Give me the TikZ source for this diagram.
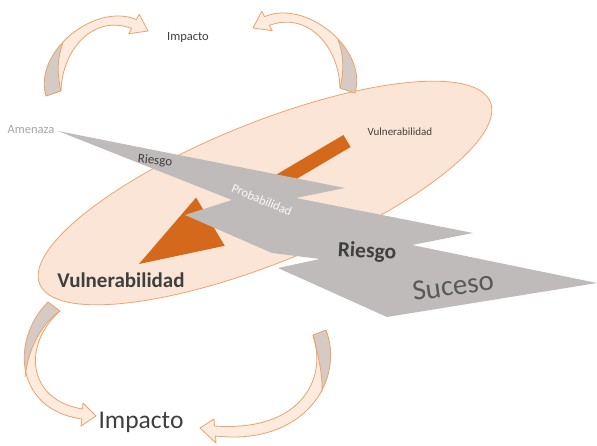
\documentclass[tikz,border=0pt]{standalone}
\usepackage{fontspec}
\setmainfont{Carlito}

\definecolor{ellfill}{HTML}{FBE5D6}
\definecolor{elledge}{HTML}{EFA470}
\definecolor{vulnorange}{HTML}{D4691C}
\definecolor{boltgray}{HTML}{BFBBBA}
\definecolor{ribfill}{HTML}{FDEBDD}
\definecolor{ribedge}{HTML}{EBA26C}
\definecolor{ribback}{HTML}{D6CBC4}
\definecolor{textdark}{HTML}{3F3F3F}
\definecolor{textmid}{HTML}{595959}
\definecolor{textlight}{HTML}{A6A6A6}

% curved ribbon arrow: outline path, back-side region, fold line
\newcommand\curvedribbon[3]{%
  \fill[ribfill] #1;
  \begin{scope}
    \clip #1;
    \fill[ribback] #2;
  \end{scope}
  \draw[ribbonedge] #3;
  \draw[ribbonedge] #1;
}

% ribbon outlines (outer edge, head, inner edge)
\def\ribbonTL{(46,96) .. controls (33,52) and (95,2) .. (136.4,19.6) -- (139.2,14.3) -- (148,31) -- (128.8,33.7) -- (131.6,28.4) .. controls (93,14) and (62,50) .. (61,91) -- cycle}
\def\backTL{(63,43) .. controls (57,58) and (57,75) .. (61,91) -- (40,110) -- (10,110) -- (10,43) -- cycle}
\def\foldTL{(63,43) .. controls (57,58) and (57,75) .. (61,91)}

\def\ribbonBL{(48,302) .. controls (10,340) and (15,410) .. (82,419) -- (81,426) -- (96,416) -- (83,403) -- (82.5,409) .. controls (27,400) and (22,345) .. (60,311) -- cycle}
\def\backBL{(25,377) .. controls (28,350) and (40,325) .. (60,311) -- (62,295) -- (0,295) -- (0,377) -- cycle}
\def\foldBL{(25,377) .. controls (28,350) and (40,325) .. (60,311)}

\def\ribbonBR{(326,330) .. controls (345,380) and (305,446) .. (215.5,436) -- (216,443) -- (200,428) -- (214,419) -- (214.5,426) .. controls (300,432) and (328,380) .. (313,335) -- cycle}
\def\backBR{(313,335) .. controls (318,355) and (323,375) .. (322,392) -- (360,392) -- (360,320) -- (313,320) -- cycle}
\def\foldBR{(313,335) .. controls (318,355) and (323,375) .. (322,392)}

\begin{document}
\begin{tikzpicture}[x={(1pt,0pt)}, y={(0pt,-1pt)},
    ribbonedge/.style={draw=ribedge, line width=0.8pt, line join=round},
    lbl/.style={inner sep=0pt, text=textdark}]
\useasboundingbox (0,0) rectangle (597,446);
\fill[white] (0,0) rectangle (597,446);

% vulnerability ellipse
\filldraw[fill=ellfill, draw=elledge, line width=0.8pt, rotate around={22:(265,193)}]
  (265,193) ellipse [x radius=243pt, y radius=70pt];

% curved ribbons round the two "Impacto" labels
\curvedribbon{\ribbonTL}{\backTL}{\foldTL}
\begin{scope}[xshift=401pt, yshift=3pt, xscale=-1]
  \curvedribbon{\ribbonTL}{\backTL}{\foldTL}
\end{scope}
\curvedribbon{\ribbonBL}{\backBL}{\foldBL}
\curvedribbon{\ribbonBR}{\backBR}{\foldBR}

% orange block arrow inside the ellipse
\fill[vulnorange] (343.4,135) -- (206.8,215.7) -- (196.1,197.6) -- (139,264)
  -- (224.7,245.8) -- (214,227.7) -- (350.6,147) -- cycle;

% grey lightning bolt from the threat to the event
\fill[boltgray] (58,131) -- (345,188) -- (296,198) -- (473,233) -- (412,245)
  -- (597,283) -- (387,317) -- (278,268) -- (320,259) -- (272,253)
  -- (185,215) -- (232,200) -- cycle;

% labels
\node[lbl, font=\fontsize{12.5}{14}\selectfont] (imptop) at (188,38) {Impacto};
\node[lbl, text=textlight, font=\fontsize{12.5}{14}\selectfont] (amenaza) at (31,130) {Amenaza};
\node[lbl, font=\fontsize{11}{13}\selectfont] (vulsmall) at (400,132) {Vulnerabilidad};
\node[lbl, rotate=-5, font=\fontsize{13}{15}\selectfont] (riesgosmall) at (155,161) {Riesgo};
\node[lbl, text=white!95!gray, rotate=-23, font=\fontsize{12.5}{15}\selectfont] (prob) at (262,200) {Probabilidad};
\node[lbl, font=\bfseries\fontsize{21}{25}\selectfont] (vulbig) at (121,280) {Vulnerabilidad};
\node[lbl, rotate=-3, font=\bfseries\fontsize{21.5}{25}\selectfont] (riesgobig) at (367,252) {Riesgo};
\node[lbl, text=textmid, rotate=8, font=\fontsize{29}{33}\selectfont] (suceso) at (453,286) {Suceso};
\node[lbl, font=\fontsize{25.5}{30}\selectfont] (impbottom) at (141,422) {Impacto};
\end{tikzpicture}
\end{document}
